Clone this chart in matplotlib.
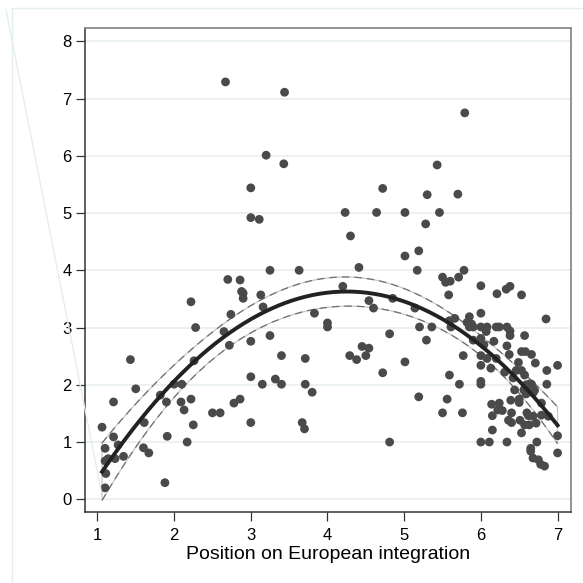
"""Scatter of party positions on European integration with a quadratic fit
and its 95% confidence band (Stata-like look)."""

import numpy as np
import matplotlib.pyplot as plt
from matplotlib.lines import Line2D

# x: position on European integration, y: salience
pos_x = [
    1.06, 1.10, 1.10, 1.11, 1.10, 1.14, 1.21, 1.21, 1.23, 1.27, 1.34, 1.43,
    1.50, 1.61, 1.60, 1.67, 1.82, 1.88, 1.90, 1.91, 2.00, 2.10, 2.09, 2.13,
    2.17, 2.22, 2.22, 2.25, 2.26, 2.28, 2.50, 2.60, 2.65, 2.67, 2.70, 2.72,
    2.74, 2.78, 2.86, 2.86, 2.88, 2.90, 2.90, 3.00, 3.00, 3.00, 3.00, 3.00,
    3.11, 3.13, 3.16, 3.15, 3.20, 3.25, 3.25, 3.32, 3.40, 3.40, 3.44, 3.43,
    3.63, 3.67, 3.70, 3.71, 3.71, 3.80, 3.83, 4.00, 4.00, 4.20, 4.23, 4.30,
    4.29, 4.38, 4.41, 4.45, 4.50, 4.54, 4.54, 4.60, 4.64, 4.72, 4.72, 4.81,
    4.81, 4.85, 5.01, 5.01, 5.01, 5.14, 5.17, 5.19, 5.19, 5.20, 5.29, 5.28,
    5.30, 5.36, 5.43, 5.46, 5.50, 5.50, 5.54, 5.56, 5.58, 5.60, 5.59, 5.59,
    5.61, 5.66, 5.70, 5.71, 5.72, 5.76, 5.77, 5.78, 5.79, 5.82, 5.85, 5.85,
    5.88, 5.90, 5.90, 6.00, 6.00, 6.00, 6.00, 6.00, 6.00, 6.00, 6.00, 6.00,
    6.04, 6.08, 6.07, 6.08, 6.11, 6.13, 6.14, 6.15, 6.15, 6.17, 6.20, 6.21,
    6.20, 6.24, 6.24, 6.22, 6.28, 6.31, 6.33, 6.34, 6.34, 6.34, 6.36, 6.37,
    6.38, 6.38, 6.38, 6.39, 6.40, 6.40, 6.42, 6.44, 6.46, 6.49, 6.50, 6.50,
    6.51, 6.53, 6.53, 6.53, 6.53, 6.56, 6.57, 6.57, 6.57, 6.58, 6.59, 6.59,
    6.60, 6.61, 6.62, 6.63, 6.65, 6.65, 6.66, 6.66, 6.68, 6.71, 6.68, 6.68,
    6.68, 6.72, 6.73, 6.75, 6.78, 6.79, 6.79, 6.83, 6.85, 6.86, 6.86, 6.88,
    7.00, 7.00, 7.00, 6.62, 6.64, 6.58, 6.70,
]
pos_y = [
    1.26, 0.89, 0.20, 0.45, 0.67, 0.71, 1.70, 1.09, 0.71, 0.95, 0.75, 2.44,
    1.93, 1.34, 0.90, 0.81, 1.82, 0.29, 1.70, 1.10, 2.01, 2.01, 1.70, 1.56,
    1.00, 3.45, 1.75, 1.30, 2.42, 3.00, 1.51, 1.51, 2.93, 7.29, 3.84, 2.69,
    3.23, 1.68, 3.83, 1.75, 3.63, 3.60, 3.51, 5.44, 4.92, 2.76, 2.14, 1.34,
    4.89, 3.57, 3.36, 2.01, 6.01, 4.00, 2.86, 2.10, 2.51, 2.01, 7.11, 5.86,
    4.00, 1.34, 1.23, 2.46, 2.01, 1.87, 3.25, 3.08, 3.01, 3.72, 5.01, 4.60,
    2.51, 2.44, 4.05, 2.67, 2.51, 2.64, 3.47, 3.34, 5.01, 5.43, 2.21, 2.89,
    1.00, 3.51, 5.01, 4.25, 2.40, 3.34, 4.00, 4.34, 1.79, 3.01, 2.78, 4.81,
    5.32, 3.01, 5.84, 5.01, 3.88, 1.51, 3.79, 1.75, 3.57, 3.81, 3.12, 2.17,
    3.01, 3.16, 5.33, 3.88, 2.01, 1.51, 2.51, 4.00, 6.75, 3.09, 3.19, 3.01,
    3.06, 3.01, 2.78, 3.73, 3.25, 3.01, 2.81, 2.51, 2.34, 2.06, 2.01, 1.00,
    2.70, 3.01, 2.93, 2.46, 1.00, 2.29, 1.66, 1.46, 1.21, 2.76, 2.46, 3.59,
    3.01, 3.01, 1.68, 1.56, 1.55, 2.22, 3.67, 3.01, 2.68, 1.00, 1.38, 2.53,
    3.72, 2.94, 2.86, 1.73, 1.34, 1.51, 2.12, 1.91, 2.25, 2.39, 1.69, 1.75,
    1.38, 2.58, 2.25, 1.16, 3.57, 1.91, 2.17, 2.86, 1.30, 2.58, 2.00, 1.84,
    1.51, 1.90, 1.46, 1.30, 0.89, 0.84, 2.53, 2.01, 1.93, 2.38, 0.72, 1.86,
    1.45, 1.33, 1.00, 0.69, 0.61, 1.47, 1.68, 0.58, 3.15, 2.25, 2.01, 1.45,
    2.34, 1.11, 0.81, 1.95, 2.02, 1.98, 1.90,
]

x_ticks = [1, 2, 3, 4, 5, 6, 7]
y_ticks = [0, 1, 2, 3, 4, 5, 6, 7, 8]
x_title = "Position on European integration"


def quadratic_fit_ci(x, y, n_grid=200, t_crit=1.97):
    X = np.column_stack([np.ones_like(x), x, x**2])
    beta, _, _, _ = np.linalg.lstsq(X, y, rcond=None)
    resid = y - X @ beta
    s2 = resid @ resid / (len(x) - 3)
    cov = s2 * np.linalg.inv(X.T @ X)
    grid = np.linspace(x.min(), x.max(), n_grid)
    G = np.column_stack([np.ones_like(grid), grid, grid**2])
    fit = G @ beta
    se = np.sqrt(np.einsum("ij,jk,ik->i", G, cov, G))
    return grid, fit, fit - t_crit * se, fit + t_crit * se


plt.rcParams["font.family"] = ["Liberation Sans", "DejaVu Sans"]

x = np.array(pos_x)
y = np.array(pos_y)
grid, fit, lo, hi = quadratic_fit_ci(x, y)

fig = plt.figure(figsize=(5.83, 5.83), dpi=100)
ax = fig.add_axes([85 / 583, 1 - 512 / 583, (570.6 - 85) / 583, (512 - 27.9) / 583])

for yt in y_ticks:
    ax.axhline(yt, color="#e9f0f2", linewidth=1.3, zorder=0)

# confidence band: light outline plus dashed grey edges
band_x = np.concatenate([grid, grid[::-1], grid[:1]])
band_y = np.concatenate([hi, lo[::-1], hi[:1]])
ax.plot(band_x, band_y, color="#c8c8c8", linewidth=0.9, zorder=2)
ax.plot(grid, hi, color="#707070", linewidth=0.9, dashes=(6, 4), zorder=2)
ax.plot(grid, lo, color="#707070", linewidth=0.9, dashes=(6, 4), zorder=2)

ax.scatter(x, y, s=40, color="#4a4a4a", edgecolors="none", zorder=3)
ax.plot(grid, fit, color="#222222", linewidth=2.8, zorder=4)

ax.set_xlim(0.838, 7.17)
ax.set_ylim(-0.222, 8.234)
ax.set_xticks(x_ticks)
ax.set_yticks(y_ticks)
ax.tick_params(axis="both", direction="out", length=6.5, width=0.9,
               color="#333333", labelsize=12, pad=3)
ax.tick_params(axis="x", pad=5)
ax.set_xlabel(x_title, fontsize=14, labelpad=2)

for side in ["left", "bottom"]:
    ax.spines[side].set_color("#333333")
    ax.spines[side].set_linewidth(1.1)
for side in ["top", "right"]:
    ax.spines[side].set_color("#8a8a8a")
    ax.spines[side].set_linewidth(1.3)

# faint outer frame and stray diagonal line seen in the original export
frame_color = "#e4eeee"
fig.add_artist(Line2D([12 / 583, 1], [1 - 8 / 583, 1 - 8 / 583],
                      color=frame_color, linewidth=1.0))
fig.add_artist(Line2D([12 / 583, 12 / 583], [1 - 8 / 583, 0],
                      color=frame_color, linewidth=1.0))
fig.add_artist(Line2D([6 / 583, 101 / 583], [1 - 10 / 583, 1 - 490 / 583],
                      color=frame_color, linewidth=1.0))

fig.savefig("out.png", dpi=100, facecolor="white")
